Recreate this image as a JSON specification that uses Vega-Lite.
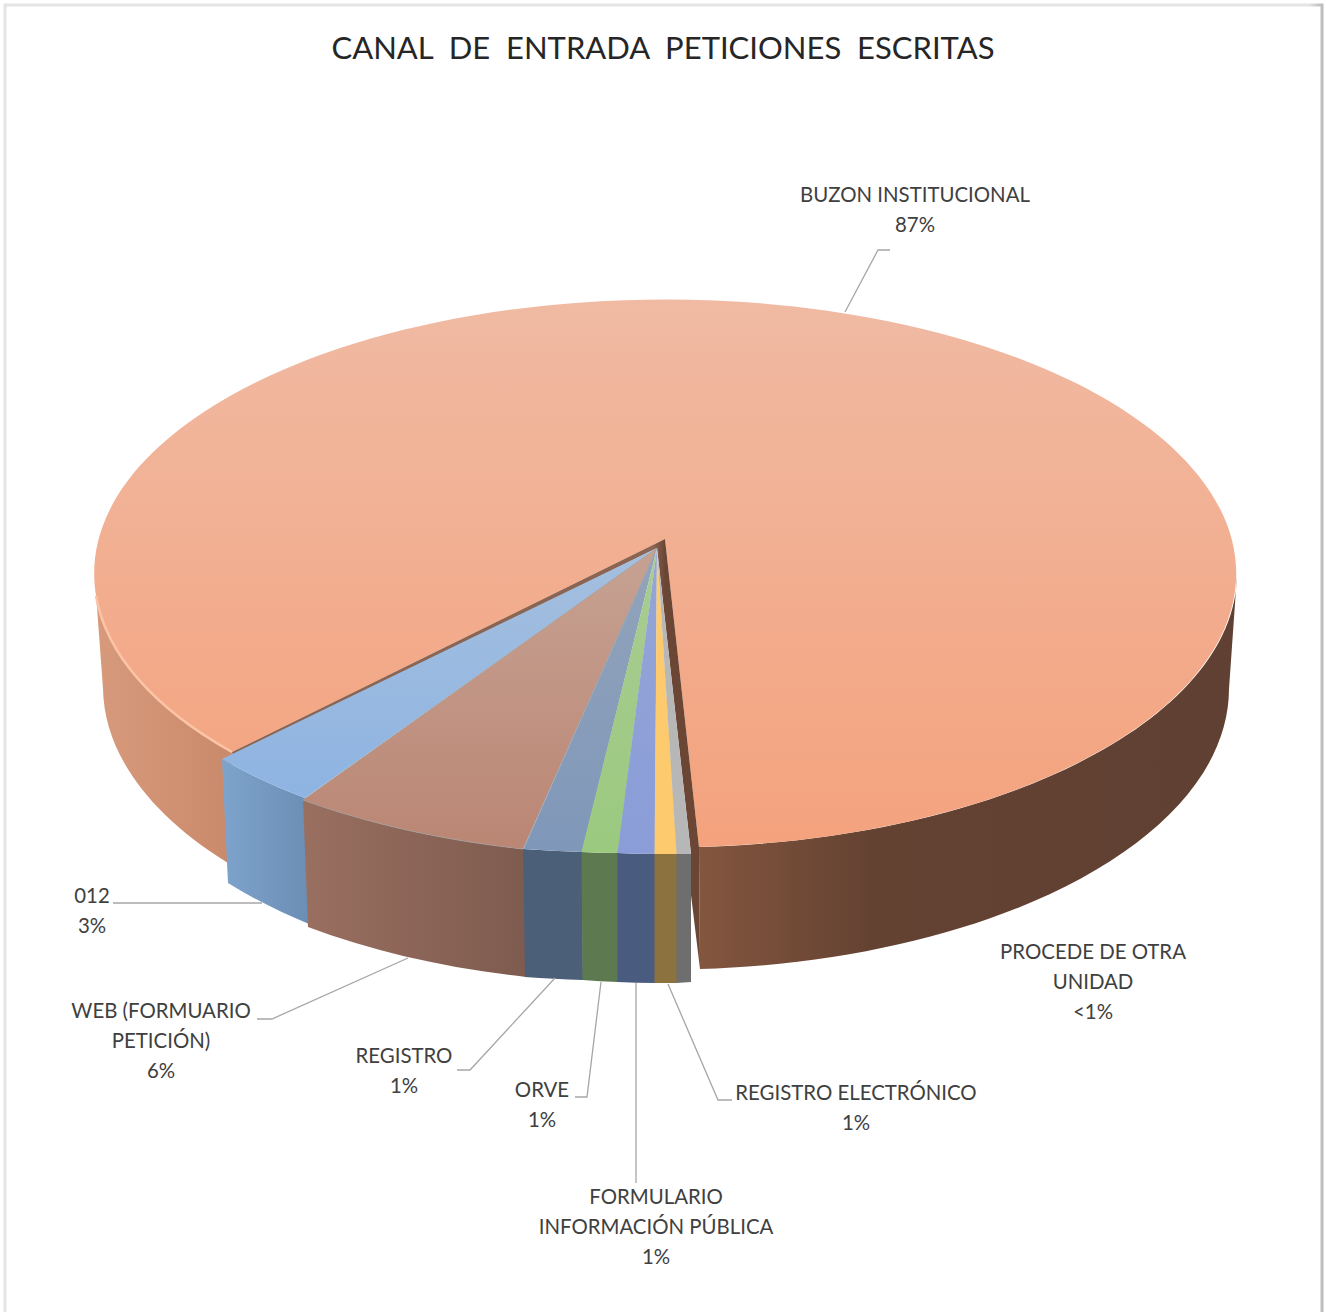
{"$schema":"https://vega.github.io/schema/vega-lite/v6.json","width":1326,"height":1312,"padding":0,"autosize":{"type":"none"},"background":"#ffffff","config":{"view":{"stroke":null}},
"title":{"text":"CANAL \u00a0DE \u00a0ENTRADA \u00a0PETICIONES \u00a0ESCRITAS","font":"Lato","fontSize":31,"fontWeight":"normal","color":"#262626","anchor":"middle","offset":-67},
"data":{"values":[
{"canal":"BUZON INSTITUCIONAL","porcentaje":87,"etiqueta":"BUZON INSTITUCIONAL\n87%"},
{"canal":"012","porcentaje":3,"etiqueta":"012\n3%"},
{"canal":"WEB (FORMUARIO PETICIÓN)","porcentaje":6,"etiqueta":"WEB (FORMUARIO\nPETICIÓN)\n6%"},
{"canal":"REGISTRO","porcentaje":1,"etiqueta":"REGISTRO\n1%"},
{"canal":"ORVE","porcentaje":1,"etiqueta":"ORVE\n1%"},
{"canal":"FORMULARIO INFORMACIÓN PÚBLICA","porcentaje":1,"etiqueta":"FORMULARIO\nINFORMACIÓN PÚBLICA\n1%"},
{"canal":"REGISTRO ELECTRÓNICO","porcentaje":1,"etiqueta":"REGISTRO ELECTRÓNICO\n1%"},
{"canal":"PROCEDE DE OTRA UNIDAD","porcentaje":0.4,"etiqueta":"PROCEDE DE OTRA\nUNIDAD\n<1%"}
]},
"resolve":{"scale":{"shape":"independent","fill":"independent"}},
"layer":[
{"data":{"values":[{"marco":"tarjeta"}]},"mark":{"type":"point","filled":false,"size":4,"opacity":1,"strokeWidth":3,"shape":"M-658,660 L-658,-651 L659,-651 L659,660","stroke":{"gradient":"linear","x1":0,"y1":0,"x2":1,"y2":0,"stops":[{"offset":0,"color":"#e4e4e4"},{"offset":0.99,"color":"#e4e4e4"},{"offset":1,"color":"#bcbcbc"}]}}},
{"transform":[{"filter":"datum.canal === 'BUZON INSTITUCIONAL'"}],"mark":{"type":"point","filled":true,"size":4,"opacity":1,"strokeWidth":0,"shape":"M-568,-76 L-560,33 A563,281 0 0 0 -435,207 L-431,96 Z M36,191 A571,274 0 0 0 574,-81 L566,33 A563,281 0 0 1 37,313 Z","fill":{"gradient":"linear","x1":0,"y1":0,"x2":1,"y2":0,"stops":[{"offset":0,"color":"#d89a7c"},{"offset":0.12,"color":"#c98a6b"},{"offset":0.52,"color":"#85573f"},{"offset":0.68,"color":"#644232"},{"offset":1,"color":"#5f4032"}]}}},
{"transform":[{"filter":"datum.canal === 'BUZON INSTITUCIONAL'"}],"mark":{"type":"point","filled":true,"size":4,"opacity":1,"strokeWidth":0,"shape":"M2,-117 L-431,96 A571,274 0 1 1 36,191 Z","fill":{"gradient":"linear","x1":0,"y1":0,"x2":0,"y2":1,"stops":[{"offset":0,"color":"#f0baa3"},{"offset":1,"color":"#f4a27d"}]}}},
{"transform":[{"filter":"datum.canal === 'BUZON INSTITUCIONAL'"}],"mark":{"type":"point","filled":false,"size":4,"opacity":1,"strokeWidth":2.5,"stroke":"#fcc4a6","shape":"M-567,-60 A571,274 0 0 0 -431,96"}},
{"transform":[{"filter":"datum.canal === 'BUZON INSTITUCIONAL'"}],"mark":{"type":"point","filled":true,"size":4,"opacity":1,"strokeWidth":0,"shape":"M2,-117 L-431,96 L-430,101 L-6,-108 Z M2,-117 L36,191 L37,313 L28,239 L28,198 L-6,-108 Z","fill":{"gradient":"linear","x1":0,"y1":0,"x2":1,"y2":0,"stops":[{"offset":0,"color":"#8b6552"},{"offset":0.9,"color":"#8b6552"},{"offset":0.925,"color":"#6c4635"},{"offset":1,"color":"#6c4635"}]}}},
{"transform":[{"filter":"datum.canal === '012'"}],"mark":{"type":"point","filled":true,"size":4,"opacity":1,"strokeWidth":0,"shape":"M-441,103 A571,274 0 0 0 -358,142 L-354,268 A563,281 0 0 1 -435,227 Z","fill":{"gradient":"linear","x1":0,"y1":0,"x2":1,"y2":0,"stops":[{"offset":0,"color":"#7ea3cc"},{"offset":1,"color":"#6b8eb5"}]}}},
{"transform":[{"filter":"datum.canal === 'WEB (FORMUARIO PETICIÓN)'"}],"mark":{"type":"point","filled":true,"size":4,"opacity":1,"strokeWidth":0,"shape":"M-360,144 A571,274 0 0 0 -139,193 L-137,321 A563,281 0 0 1 -355,271 Z","fill":{"gradient":"linear","x1":0,"y1":0,"x2":1,"y2":0,"stops":[{"offset":0,"color":"#996f60"},{"offset":1,"color":"#7e5b4f"}]}}},
{"transform":[{"filter":"datum.canal !== 'BUZON INSTITUCIONAL' && datum.canal !== '012' && datum.canal !== 'WEB (FORMUARIO PETICIÓN)'"}],"mark":{"type":"point","filled":true,"size":4,"opacity":1,"strokeWidth":0},
"encoding":{
"shape":{"field":"canal","type":"nominal","legend":null,"scale":{"domain":["REGISTRO","ORVE","FORMULARIO INFORMACIÓN PÚBLICA","REGISTRO ELECTRÓNICO","PROCEDE DE OTRA UNIDAD"],"range":[
"M-140,193 A571,274 0 0 0 -81,196 L-80,324 A563,281 0 0 1 -138,321 Z",
"M-81.5,196 A571,274 0 0 0 -45,197 L-45,326 A563,281 0 0 1 -80.5,324 Z",
"M-45.5,197 A571,274 0 0 0 -8,198 L-8,327 A563,281 0 0 1 -45.5,326 Z",
"M-8.5,198 A571,274 0 0 0 14,198 L14,327 A563,281 0 0 1 -8.5,327 Z",
"M13.5,198 A571,274 0 0 0 28,198 L28,326 A563,281 0 0 1 13.5,327 Z"]}},
"fill":{"field":"canal","type":"nominal","legend":null,"scale":{"domain":["REGISTRO","ORVE","FORMULARIO INFORMACIÓN PÚBLICA","REGISTRO ELECTRÓNICO","PROCEDE DE OTRA UNIDAD"],"range":["#4c5f79","#5d794f","#4a5b80","#8c723f","#6e6e6e"]}}
}},
{"transform":[{"filter":"datum.canal === '012'"}],"mark":{"type":"point","filled":true,"size":4,"opacity":1,"strokeWidth":0,"shape":"M-6,-108 L-441,103 A571,274 0 0 0 -358,142 Z","fill":{"gradient":"linear","x1":0,"y1":0,"x2":0,"y2":1,"stops":[{"offset":0,"color":"#a5bfde"},{"offset":1,"color":"#8eb4e2"}]}}},
{"transform":[{"filter":"datum.canal === 'WEB (FORMUARIO PETICIÓN)'"}],"mark":{"type":"point","filled":true,"size":4,"opacity":1,"strokeWidth":0.8,"stroke":"#a09a98","shape":"M-6,-108 L-360,144 A571,274 0 0 0 -140,193 Z","fill":{"gradient":"linear","x1":0,"y1":0,"x2":0,"y2":1,"stops":[{"offset":0,"color":"#c6a293"},{"offset":1,"color":"#bb8674"}]}}},
{"transform":[{"filter":"datum.canal === 'REGISTRO'"}],"mark":{"type":"point","filled":true,"size":4,"opacity":1,"strokeWidth":0,"shape":"M-6,-108 L-139.5,193 A571,274 0 0 0 -81,196 Z","fill":{"gradient":"linear","x1":0,"y1":0,"x2":0,"y2":1,"stops":[{"offset":0,"color":"#93a4bb"},{"offset":1,"color":"#7f97b9"}]}}},
{"transform":[{"filter":"datum.canal === 'ORVE'"}],"mark":{"type":"point","filled":true,"size":4,"opacity":1,"strokeWidth":0,"shape":"M-6,-108 L-81.5,196 A571,274 0 0 0 -45,197 Z","fill":{"gradient":"linear","x1":0,"y1":0,"x2":0,"y2":1,"stops":[{"offset":0,"color":"#a9cc93"},{"offset":1,"color":"#9bc97f"}]}}},
{"transform":[{"filter":"datum.canal === 'FORMULARIO INFORMACIÓN PÚBLICA'"}],"mark":{"type":"point","filled":true,"size":4,"opacity":1,"strokeWidth":0,"shape":"M-6,-108 L-45.5,197 A571,274 0 0 0 -8,198 Z","fill":{"gradient":"linear","x1":0,"y1":0,"x2":0,"y2":1,"stops":[{"offset":0,"color":"#95a5d6"},{"offset":1,"color":"#8a9dd8"}]}}},
{"transform":[{"filter":"datum.canal === 'REGISTRO ELECTRÓNICO'"}],"mark":{"type":"point","filled":true,"size":4,"opacity":1,"strokeWidth":0,"shape":"M-6,-108 L-8.5,198 A571,274 0 0 0 14,198 Z","fill":"#fdcb6e"}},
{"transform":[{"filter":"datum.canal === 'PROCEDE DE OTRA UNIDAD'"}],"mark":{"type":"point","filled":true,"size":4,"opacity":1,"strokeWidth":0,"shape":"M-6,-108 L13.5,198 A571,274 0 0 0 28,198 Z","fill":"#b7b7b7"}},
{"transform":[{"filter":"datum.canal !== 'PROCEDE DE OTRA UNIDAD'"}],"mark":{"type":"point","filled":false,"size":4,"opacity":1,"strokeWidth":1.3,"stroke":"#a6a6a6"},
"encoding":{
"shape":{"field":"canal","type":"nominal","legend":null,"scale":{"domain":["BUZON INSTITUCIONAL","012","WEB (FORMUARIO PETICIÓN)","REGISTRO","ORVE","FORMULARIO INFORMACIÓN PÚBLICA","REGISTRO ELECTRÓNICO"],"range":[
"M182,-344 L215,-406 L227,-406",
"M-550,247 L-401,247",
"M-406,363 L-391,363 L-255,302",
"M-206,414 L-193,414 L-108,322",
"M-88,441 L-76,441 L-62,326",
"M-27,327 L-27,527",
"M5,328 L55,444 L69,444"]}}
}},
{"transform":[{"filter":"datum.canal === 'BUZON INSTITUCIONAL'"}],"mark":{"type":"text","font":"Lato","fontSize":20.4,"color":"#404040","align":"center","baseline":"middle","lineBreak":"\n","lineHeight":30,"dx":252,"dy":-460},"encoding":{"text":{"field":"etiqueta"}}},
{"transform":[{"filter":"datum.canal === '012'"}],"mark":{"type":"text","font":"Lato","fontSize":20.4,"color":"#404040","align":"center","baseline":"middle","lineBreak":"\n","lineHeight":30,"dx":-571,"dy":241},"encoding":{"text":{"field":"etiqueta"}}},
{"transform":[{"filter":"datum.canal === 'WEB (FORMUARIO PETICIÓN)'"}],"mark":{"type":"text","font":"Lato","fontSize":20.4,"color":"#404040","align":"center","baseline":"middle","lineBreak":"\n","lineHeight":30,"dx":-502,"dy":356},"encoding":{"text":{"field":"etiqueta"}}},
{"transform":[{"filter":"datum.canal === 'REGISTRO'"}],"mark":{"type":"text","font":"Lato","fontSize":20.4,"color":"#404040","align":"center","baseline":"middle","lineBreak":"\n","lineHeight":30,"dx":-259,"dy":401},"encoding":{"text":{"field":"etiqueta"}}},
{"transform":[{"filter":"datum.canal === 'ORVE'"}],"mark":{"type":"text","font":"Lato","fontSize":20.4,"color":"#404040","align":"center","baseline":"middle","lineBreak":"\n","lineHeight":30,"dx":-121,"dy":435},"encoding":{"text":{"field":"etiqueta"}}},
{"transform":[{"filter":"datum.canal === 'FORMULARIO INFORMACIÓN PÚBLICA'"}],"mark":{"type":"text","font":"Lato","fontSize":20.4,"color":"#404040","align":"center","baseline":"middle","lineBreak":"\n","lineHeight":30,"dx":-7,"dy":542},"encoding":{"text":{"field":"etiqueta"}}},
{"transform":[{"filter":"datum.canal === 'REGISTRO ELECTRÓNICO'"}],"mark":{"type":"text","font":"Lato","fontSize":20.4,"color":"#404040","align":"center","baseline":"middle","lineBreak":"\n","lineHeight":30,"dx":193,"dy":438},"encoding":{"text":{"field":"etiqueta"}}},
{"transform":[{"filter":"datum.canal === 'PROCEDE DE OTRA UNIDAD'"}],"mark":{"type":"text","font":"Lato","fontSize":20.4,"color":"#404040","align":"center","baseline":"middle","lineBreak":"\n","lineHeight":30,"dx":430,"dy":297},"encoding":{"text":{"field":"etiqueta"}}}
]}
